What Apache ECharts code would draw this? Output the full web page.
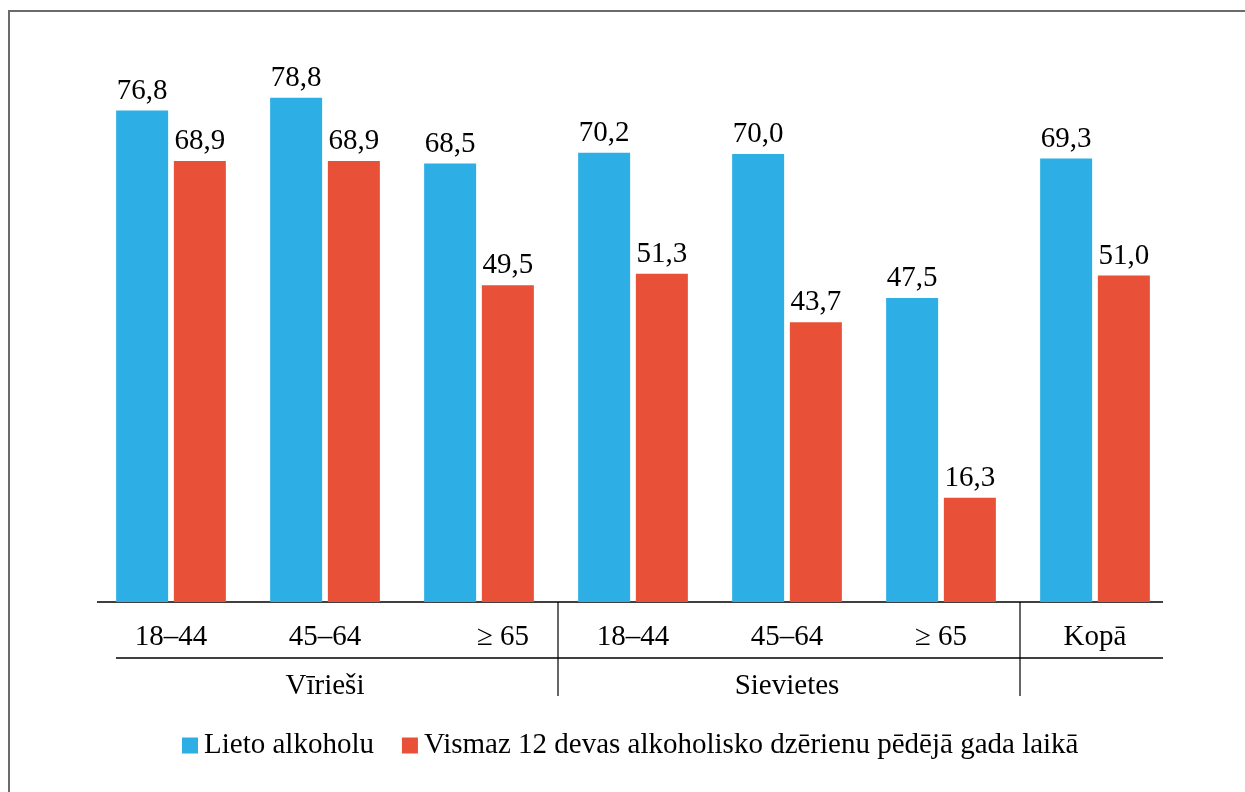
<!DOCTYPE html>
<html>
<head>
<meta charset="utf-8">
<script src="https://cdn.jsdelivr.net/npm/echarts@6/dist/echarts.min.js"></script>
<style>
  html, body { margin: 0; padding: 0; background: #fff; }
  #chart { position: absolute; left: 0; top: 0; width: 1245px; height: 792px; }
  #frame { position: absolute; left: 8px; top: 10px; right: -10px; bottom: -10px;
           border-top: 2px solid #6b6b6b; border-left: 2px solid #6b6b6b; }
</style>
</head>
<body>
<div id="frame"></div>
<div id="chart"></div>
<script>
const categories = ['18–44', '45–64', '≥ 65', '18–44', '45–64', '≥ 65', 'Kopā']
const groups = ['', 'Vīrieši', '', '', 'Sievietes', '', '']
const seriesNames = ['Lieto alkoholu', 'Vismaz 12 devas alkoholisko dzērienu pēdējā gada laikā']
const lietoAlkoholu = [76.8, 78.8, 68.5, 70.2, 70.0, 47.5, 69.3]
const vismaz12 = [68.9, 68.9, 49.5, 51.3, 43.7, 16.3, 51.0]
// indexes of categories that start a new group (divider drawn on their left)
const groupStarts = [3, 6]

const font = 'Liberation Serif, Times New Roman, serif'
const fs = 29
const fmt = p => p.value.toFixed(1).replace('.', ',')

const myEcharts = echarts.init(document.getElementById('chart'))
myEcharts.setOption({
  animation: false,
  textStyle: { fontFamily: font, color: '#000' },
  legend: {
    left: 182,
    top: 731,
    padding: 0,
    itemWidth: 16,
    itemHeight: 16,
    itemGap: 28,
    icon: 'rect',
    textStyle: { fontFamily: font, fontSize: fs, color: '#000', padding: [0, 0, 0, 1] },
    data: seriesNames
  },
  grid: { left: 94, width: 1078, top: 90, height: 512 },
  xAxis: [
    {
      type: 'category',
      data: categories.map((c, i) => i === 2 ? { value: c, textStyle: { padding: [0, 0, 0, 48] } } : c),
      axisLine: { show: false },
      axisTick: { show: false },
      axisLabel: { fontFamily: font, fontSize: fs, color: '#000', margin: 21, interval: 0 }
    },
    {
      type: 'category',
      position: 'bottom',
      offset: 56,
      data: groups,
      axisLine: { show: false },
      axisTick: { show: false },
      axisLabel: { fontFamily: font, fontSize: fs, color: '#000', margin: 14, interval: 0 }
    }
  ],
  yAxis: { type: 'value', min: 0, max: 80, show: false },
  series: [
    {
      name: seriesNames[0],
      type: 'bar',
      data: lietoAlkoholu,
      barWidth: 52,
      barGap: '11%',
      itemStyle: { color: '#2DAEE5' },
      label: { show: true, position: 'top', distance: 5, formatter: fmt, fontFamily: font, fontSize: fs, color: '#000' }
    },
    {
      name: seriesNames[1],
      type: 'bar',
      data: vismaz12,
      barWidth: 52,
      itemStyle: { color: '#E85037' },
      label: { show: true, position: 'top', distance: 5, formatter: fmt, fontFamily: font, fontSize: fs, color: '#000' }
    }
  ]
})

// table-like rules under the bars, placed from the category scale
const base = myEcharts.convertToPixel({ yAxisIndex: 0 }, 0)
const cx = i => myEcharts.convertToPixel({ xAxisIndex: 0 }, i)
const step = cx(1) - cx(0)
const lineStyle = { stroke: '#000', lineWidth: 1.5 }
const rules = [
  { type: 'line', shape: { x1: cx(0) - step / 2 + 3, y1: base, x2: cx(6) + step / 2 - 9, y2: base }, style: lineStyle },
  { type: 'line', shape: { x1: cx(0) - step / 2 + 22, y1: base + 56, x2: cx(6) + step / 2 - 9, y2: base + 56 }, style: lineStyle }
]
groupStarts.forEach(g => {
  const x = cx(g) - step / 2 + 2
  rules.push({ type: 'line', shape: { x1: x, y1: base, x2: x, y2: base + 94 }, style: { stroke: '#000', lineWidth: 1.2 } })
})
myEcharts.setOption({ graphic: rules })
</script>
</body>
</html>
